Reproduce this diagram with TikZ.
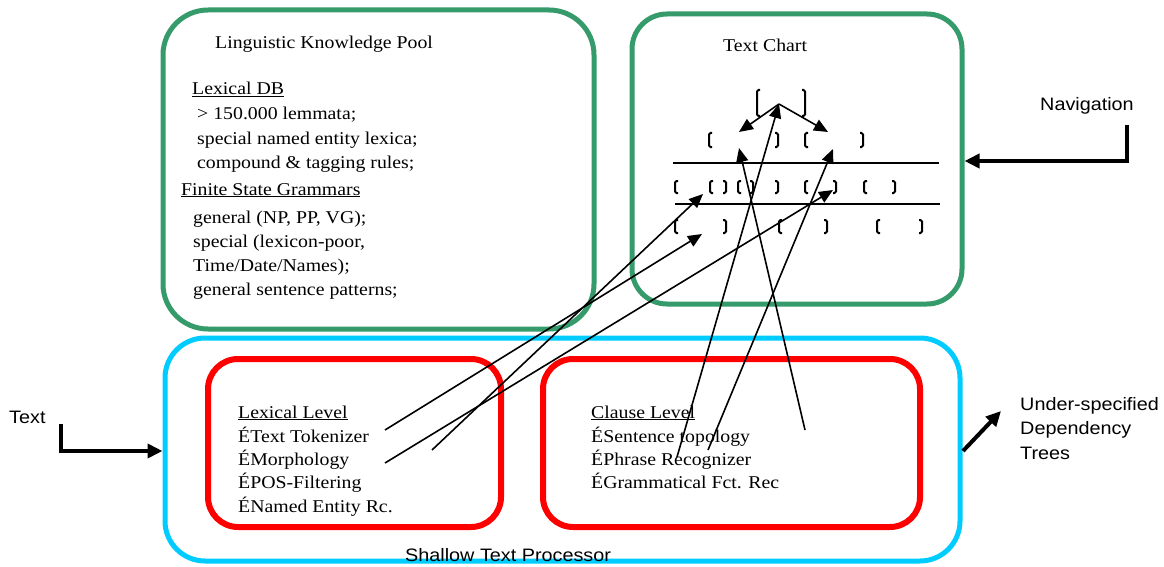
\documentclass[tikz,border=0pt]{standalone}
\usepackage{fontspec}
\setmainfont{Liberation Serif}[FakeStretch=1.1]
\newfontfamily\sansf{Liberation Sans}[FakeStretch=1.1]
\usetikzlibrary{arrows.meta}
\definecolor{kgreen}{RGB}{53,155,106}
\definecolor{kcyan}{RGB}{0,204,255}
\definecolor{kred}{RGB}{255,0,0}
\tikzset{
  serif/.style={anchor=base west, inner sep=0pt, font=\fontsize{18}{24}\selectfont},
  sans/.style={anchor=base west, inner sep=0pt, font=\sansf\fontsize{18}{24}\selectfont},
  gbox/.style={draw=kgreen, line width=5pt, rounded corners=45pt, inner sep=0pt},
  cbox/.style={draw=kcyan, line width=5pt, rounded corners=40pt, inner sep=0pt},
  rbox/.style={draw=kred, line width=6pt, rounded corners=30pt, inner sep=0pt},
  link/.style={line width=1.6pt, -{Triangle[length=14pt,width=12pt]}},
  flow/.style={line width=4pt, -{Triangle[length=15pt,width=14pt]}},
  chartline/.style={line width=1.6pt},
  brk/.style={line width=2pt, rounded corners=1.5pt}
}
\newcommand\lbrk[3]{\draw[brk] (#1+3,#2) -- (#1,#2) -- (#1,#3) -- (#1+3,#3);}
\newcommand\rbrk[3]{\draw[brk] (#1-3,#2) -- (#1,#2) -- (#1,#3) -- (#1-3,#3);}
\begin{document}
\begin{tikzpicture}[x=1pt,y=-1pt]
\useasboundingbox (0,0) rectangle (1164,567);
\fill[white] (0,0) rectangle (1164,567);

% boxes
\node[gbox, minimum width=431pt, minimum height=319pt] (pool) at (378.5,169.5) {};
\node[gbox, rounded corners=35pt, minimum width=330pt, minimum height=290pt] (chart) at (797,159) {};
\node[cbox, minimum width=795pt, minimum height=223pt] (proc) at (562.5,449.5) {};
\node[rbox, minimum width=293pt, minimum height=168pt] (lex) at (354.5,443) {};
\node[rbox, minimum width=377pt, minimum height=168pt] (clause) at (731.5,443) {};

% knowledge pool text
\node[serif] (t1) at (215,49) {Linguistic Knowledge Pool};
\node[serif] (t2) at (192,95) {\underline{Lexical DB}};
\node[serif] (t3) at (197,120) {> 150.000 lemmata;};
\node[serif] (t4) at (197,144) {special named entity lexica;};
\node[serif] (t5) at (197,168) {compound \& tagging rules;};
\node[serif] (t6) at (181,195) {\underline{Finite State Grammars}};
\node[serif] (t7) at (193,223) {general (NP, PP, VG);};
\node[serif] (t8) at (193,247) {special (lexicon-poor,};
\node[serif] (t9) at (193,271) {Time/Date/Names);};
\node[serif] (t10) at (193,295) {general sentence patterns;};

% chart text
\node[serif] (tc) at (723,52) {Text Chart};

% lexical level
\node[serif] (l1) at (238,418) {\underline{Lexical Level}};
\node[serif] (l2) at (238,442) {ÉText Tokenizer};
\node[serif] (l3) at (238,465) {ÉMorphology};
\node[serif] (l4) at (238,488) {ÉPOS-Filtering};
\node[serif] (l5) at (238,512) {ÉNamed Entity Rc.};

% clause level
\node[serif] (c1) at (591,418) {\underline{Clause Level}};
\node[serif] (c2) at (591,442) {ÉSentence topology};
\node[serif] (c3) at (591,465) {ÉPhrase Recognizer};
\node[serif] (c4) at (591,488) {ÉGrammatical Fct. Rec};

% sans labels
\node[sans] (txt) at (9,423) {Text};
\node[sans] (nav) at (1040,111) {Navigation};
\node[sans] (u1) at (1020,410) {Under-specified};
\node[sans] (u2) at (1020,434) {Dependency};
\node[sans] (u3) at (1020,459) {Trees};
\node[sans] (stp) at (405,561) {Shallow Text Processor};

% chart lines
\coordinate (h1a) at (673,163); \coordinate (h1b) at (939,163);
\coordinate (h2a) at (675,204); \coordinate (h2b) at (940,204);
\draw[chartline] (h1a) -- (h1b);
\draw[chartline] (h2a) -- (h2b);

% brackets
\lbrk{757}{90}{116} \rbrk{805}{90}{116}
\lbrk{709}{133}{147} \rbrk{778}{133}{147} \lbrk{805}{133}{147} \rbrk{863}{133}{147}
\lbrk{675}{181}{193} \lbrk{710}{181}{193} \rbrk{726}{181}{193} \lbrk{738}{181}{193} \rbrk{753}{181}{193}
\rbrk{778}{181}{193} \lbrk{805}{181}{193} \rbrk{836}{181}{193} \lbrk{864}{181}{193} \rbrk{895}{181}{193}
\lbrk{675}{220}{233} \rbrk{726}{220}{233} \lbrk{779}{220}{233} \rbrk{827}{220}{233} \lbrk{877}{220}{233} \rbrk{922}{220}{233}

% chart arrows
\coordinate (apex) at (779,104);
\coordinate (dl) at (739,132);
\coordinate (dr) at (828,132);
\draw[link] (apex) -- (dl);
\draw[link] (apex) -- (dr);

\coordinate (s1) at (805,430); \coordinate (e1) at (739,148);
\coordinate (s2) at (677,457); \coordinate (e2) at (779,104);
\coordinate (s3) at (708,450); \coordinate (e3) at (833,149);
\coordinate (s4) at (385,430); \coordinate (e4) at (702,234);
\coordinate (s5) at (432,450); \coordinate (e5) at (703,194);
\coordinate (s6) at (385,463); \coordinate (e6) at (833,190);
\draw[link] (s1) -- (e1);
\draw[link] (s2) -- (e2);
\draw[link] (s3) -- (e3);
\draw[link] (s4) -- (e4);
\draw[link] (s5) -- (e5);
\draw[link] (s6) -- (e6);

% flow arrows
\coordinate (ts) at (61,424); \coordinate (tk) at (61,451);
\draw[flow] (ts) -- (tk) -- (proc.west |- tk);
\coordinate (ns) at (1127,125); \coordinate (nk) at (1127,161);
\draw[flow] (ns) -- (nk) -- (chart.east |- nk);
\coordinate (us) at (963,451); \coordinate (ue) at (1001,411);
\draw[flow] (us) -- (ue);
\end{tikzpicture}
\end{document}
